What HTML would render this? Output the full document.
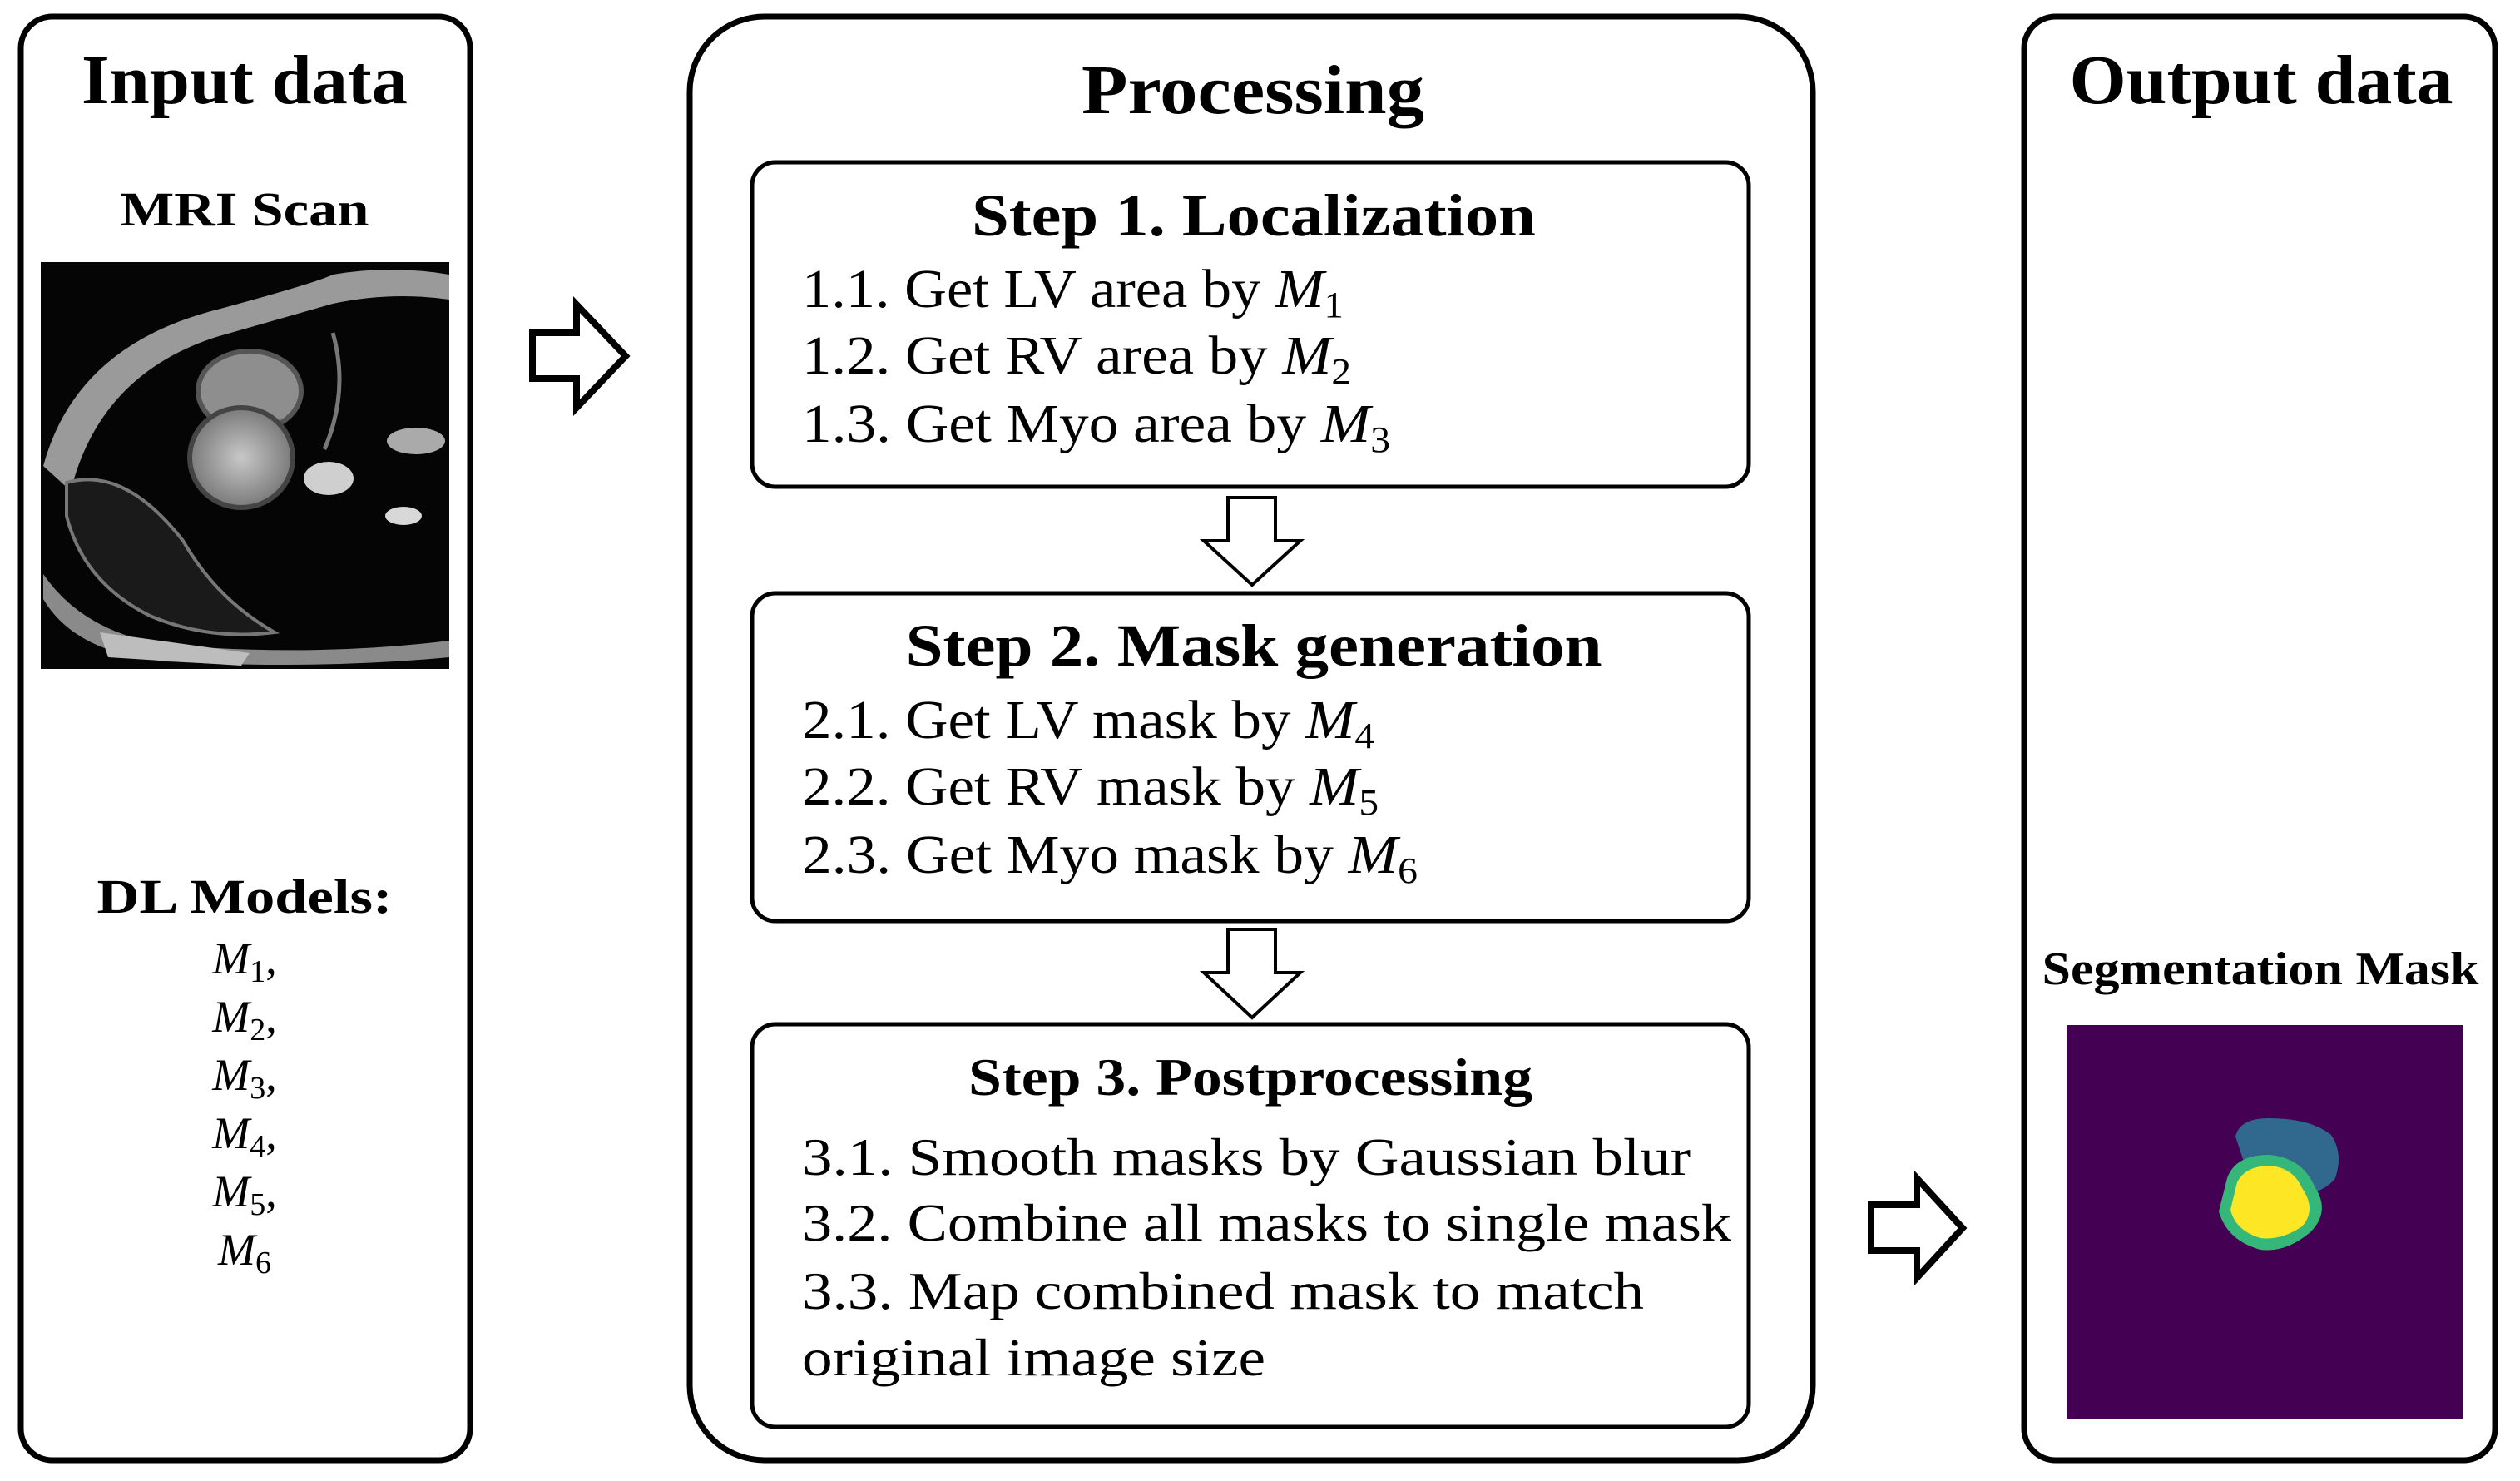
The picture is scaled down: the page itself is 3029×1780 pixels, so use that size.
<!DOCTYPE html>
<html><head><meta charset="utf-8"><style>
html,body{margin:0;padding:0;background:#fff;}
svg{display:block;}
text{font-family:"Liberation Serif",serif;fill:#000;}
.b{font-weight:bold;}
.i{font-style:italic;}
</style></head><body>
<svg width="3029" height="1780" viewBox="0 0 3029 1780" xmlns="http://www.w3.org/2000/svg">
<defs>
<radialGradient id="g1" cx="50%" cy="50%" r="50%"><stop offset="0" stop-color="#c8c8c8"/><stop offset="1" stop-color="#7a7a7a"/></radialGradient>
</defs>
<!-- Left box -->
<rect x="25" y="20" width="540" height="1735" rx="38" fill="#fff" stroke="#000" stroke-width="7"/>
<text x="294" y="124" font-size="84" class="b" text-anchor="middle" textLength="392" lengthAdjust="spacingAndGlyphs">Input data</text>
<text x="294" y="271" font-size="58" class="b" text-anchor="middle" textLength="299" lengthAdjust="spacingAndGlyphs">MRI Scan</text>
<!-- MRI image -->
<g>
<rect x="49" y="315" width="491" height="489" fill="#050505"/>
<path d="M52 560 Q90 420 250 375 Q380 340 400 330 Q470 318 540 330 L540 360 Q470 350 400 365 Q330 385 260 405 Q120 450 85 590 Z" fill="#9a9a9a"/>
<path d="M52 690 Q100 760 200 775 Q380 790 540 770 L540 790 Q380 805 200 795 Q90 785 52 720 Z" fill="#8a8a8a"/>
<path d="M120 760 L300 785 L290 800 L130 790 Z" fill="#bdbdbd"/>
<path d="M80 580 Q150 560 220 650 Q260 720 330 760 Q250 770 180 740 Q100 700 80 620 Z" fill="#1a1a1a" stroke="#777" stroke-width="4"/>
<ellipse cx="300" cy="470" rx="62" ry="48" fill="#8e8e8e" stroke="#555" stroke-width="6"/>
<ellipse cx="290" cy="550" rx="62" ry="60" fill="url(#g1)" stroke="#444" stroke-width="6"/>
<ellipse cx="395" cy="575" rx="30" ry="20" fill="#cfcfcf"/>
<ellipse cx="485" cy="620" rx="22" ry="11" fill="#d8d8d8"/>
<ellipse cx="500" cy="530" rx="35" ry="16" fill="#aaa"/>
<path d="M400 400 Q420 470 390 540" stroke="#777" stroke-width="5" fill="none"/>
</g>
<text x="294" y="1097" font-size="58" class="b" text-anchor="middle" textLength="355" lengthAdjust="spacingAndGlyphs">DL Models:</text>
<g font-size="54" text-anchor="middle">
<text x="294" y="1170"><tspan class="i">M</tspan><tspan font-size="38" dy="10">1</tspan><tspan dy="-10">,</tspan></text>
<text x="294" y="1240"><tspan class="i">M</tspan><tspan font-size="38" dy="10">2</tspan><tspan dy="-10">,</tspan></text>
<text x="294" y="1310"><tspan class="i">M</tspan><tspan font-size="38" dy="10">3</tspan><tspan dy="-10">,</tspan></text>
<text x="294" y="1380"><tspan class="i">M</tspan><tspan font-size="38" dy="10">4</tspan><tspan dy="-10">,</tspan></text>
<text x="294" y="1450"><tspan class="i">M</tspan><tspan font-size="38" dy="10">5</tspan><tspan dy="-10">,</tspan></text>
<text x="294" y="1520"><tspan class="i">M</tspan><tspan font-size="38" dy="10">6</tspan></text>
</g>
<!-- Arrow 1 -->
<path d="M640 400 L693 400 L693 366 L752 428 L693 490 L693 455 L640 455 Z" fill="#fff" stroke="#000" stroke-width="8" stroke-linejoin="miter"/>
<!-- Middle box -->
<rect x="829" y="20" width="1350" height="1735" rx="90" fill="#fff" stroke="#000" stroke-width="7"/>
<text x="1506" y="136" font-size="84" class="b" text-anchor="middle" textLength="412" lengthAdjust="spacingAndGlyphs">Processing</text>
<!-- Step1 -->
<rect x="904" y="195" width="1198" height="390" rx="28" fill="#fff" stroke="#000" stroke-width="5"/>
<text x="1507" y="283" font-size="72" class="b" text-anchor="middle" textLength="678" lengthAdjust="spacingAndGlyphs">Step 1. Localization</text>
<g font-size="66">
<text x="964" y="369" textLength="651" lengthAdjust="spacingAndGlyphs">1.1. Get LV area by <tspan class="i">M</tspan><tspan font-size="44" dy="12">1</tspan></text>
<text x="964" y="449" textLength="660" lengthAdjust="spacingAndGlyphs">1.2. Get RV area by <tspan class="i">M</tspan><tspan font-size="44" dy="12">2</tspan></text>
<text x="964" y="531" textLength="707" lengthAdjust="spacingAndGlyphs">1.3. Get Myo area by <tspan class="i">M</tspan><tspan font-size="44" dy="12">3</tspan></text>
</g>
<!-- Arrow down 1 -->
<path d="M1476 598 L1533 598 L1533 650 L1563 650 L1505 703 L1447 650 L1476 650 Z" fill="#fff" stroke="#000" stroke-width="4"/>
<!-- Step2 -->
<rect x="904" y="713" width="1198" height="394" rx="28" fill="#fff" stroke="#000" stroke-width="5"/>
<text x="1507" y="800" font-size="72" class="b" text-anchor="middle" textLength="837" lengthAdjust="spacingAndGlyphs">Step 2. Mask generation</text>
<g font-size="66">
<text x="964" y="887" textLength="688" lengthAdjust="spacingAndGlyphs">2.1. Get LV mask by <tspan class="i">M</tspan><tspan font-size="44" dy="12">4</tspan></text>
<text x="964" y="967" textLength="693" lengthAdjust="spacingAndGlyphs">2.2. Get RV mask by <tspan class="i">M</tspan><tspan font-size="44" dy="12">5</tspan></text>
<text x="964" y="1049" textLength="740" lengthAdjust="spacingAndGlyphs">2.3. Get Myo mask by <tspan class="i">M</tspan><tspan font-size="44" dy="12">6</tspan></text>
</g>
<!-- Arrow down 2 -->
<path d="M1476 1117 L1533 1117 L1533 1169 L1563 1169 L1505 1223 L1447 1169 L1476 1169 Z" fill="#fff" stroke="#000" stroke-width="4"/>
<!-- Step3 -->
<rect x="904" y="1231" width="1198" height="484" rx="28" fill="#fff" stroke="#000" stroke-width="5"/>
<text x="1503" y="1316" font-size="64" class="b" text-anchor="middle" textLength="678" lengthAdjust="spacingAndGlyphs">Step 3. Postprocessing</text>
<g font-size="64">
<text x="964" y="1412" textLength="1068" lengthAdjust="spacingAndGlyphs">3.1. Smooth masks by Gaussian blur</text>
<text x="964" y="1491" textLength="1117" lengthAdjust="spacingAndGlyphs">3.2. Combine all masks to single mask</text>
<text x="964" y="1573" textLength="1012" lengthAdjust="spacingAndGlyphs">3.3. Map combined mask to match</text>
<text x="964" y="1653" textLength="557" lengthAdjust="spacingAndGlyphs">original image size</text>
</g>
<!-- Arrow 3 -->
<path d="M2249 1448 L2304 1448 L2304 1416 L2359 1476 L2304 1536 L2304 1503 L2249 1503 Z" fill="#fff" stroke="#000" stroke-width="8"/>
<!-- Right box -->
<rect x="2433" y="20" width="566" height="1735" rx="38" fill="#fff" stroke="#000" stroke-width="7"/>
<text x="2718" y="124" font-size="84" class="b" text-anchor="middle" textLength="461" lengthAdjust="spacingAndGlyphs">Output data</text>
<text x="2717" y="1183" font-size="56" class="b" text-anchor="middle" textLength="525" lengthAdjust="spacingAndGlyphs">Segmentation Mask</text>
<rect x="2484" y="1232" width="476" height="474" fill="#440154"/>
<g transform="translate(-13,-4)">
<path d="M2700 1370 Q2705 1348 2740 1348 Q2790 1348 2815 1368 Q2830 1390 2820 1420 Q2805 1440 2770 1440 L2710 1400 Z" fill="#31688e"/>
<path d="M2690 1420 Q2700 1392 2740 1392 Q2780 1395 2795 1430 Q2815 1460 2790 1485 Q2760 1510 2730 1506 Q2690 1495 2680 1460 Z" fill="#35b779"/>
<path d="M2702 1425 Q2712 1405 2742 1405 Q2770 1408 2780 1432 Q2798 1458 2780 1478 Q2755 1495 2730 1492 Q2700 1483 2694 1458 Z" fill="#fde725"/>
</g>
</svg>
</body></html>
